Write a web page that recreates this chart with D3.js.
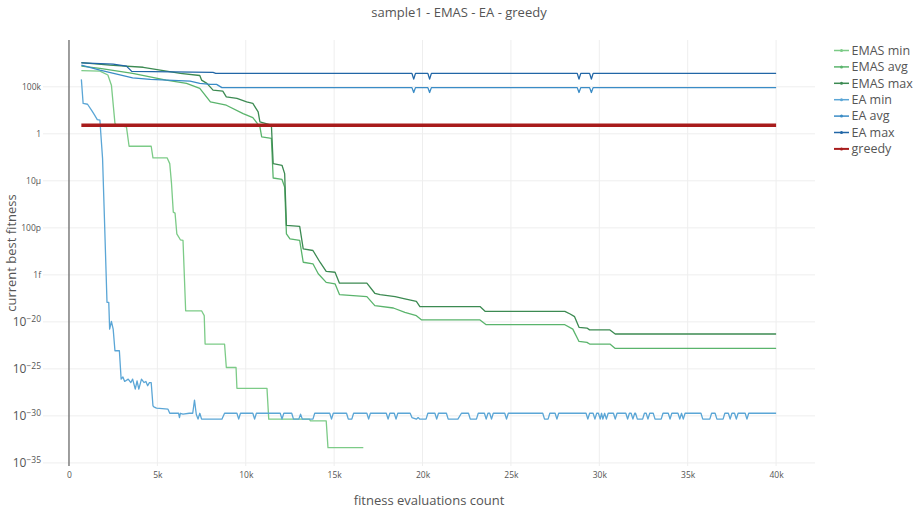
<!DOCTYPE html>
<html>
<head>
<meta charset="utf-8">
<script src="https://cdn.jsdelivr.net/npm/d3@7"></script>
<style>
  html, body { margin: 0; padding: 0; background: #fff; }
  svg { display: block; font-family: "Open Sans", "DejaVu Sans", sans-serif; }
</style>
</head>
<body>
<svg id="chart" width="917" height="512"></svg>
<script>
// ---------------- data (evaluations, best fitness) ----------------
const seriesNames = ["EMAS min", "EMAS avg", "EMAS max", "EA min", "EA avg", "EA max", "greedy"];
const seriesColors = ["#7ccb87", "#5ab46c", "#3c8a52", "#5ba6d6", "#3a8cc6", "#2166a6", "#a81c1c"];

const emasMin = [[700,5.4e6],[1750,4.7e6],[2200,1.8e6],[2400,1.5e5],[2600,13],[2700,8.3],[3250,5.5],[3400,0.048],[4650,0.048],[4750,2.8e-3],[5550,2.8e-3],[5700,6.8e-4],[5800,5.0e-6],[5900,4.7e-9],[6000,3.7e-9],[6100,2.3e-11],[6300,5.4e-12],[6450,4.6e-12],[6600,1.5e-19],[7500,1.5e-19],[7650,4.6e-20],[7700,4.4e-23],[8800,4.4e-23],[8900,1.4e-25],[9450,1.4e-25],[9500,8.5e-28],[11200,8.5e-28],[11300,4.5e-31],[13600,4.5e-31],[13650,3.0e-31],[14550,3.0e-31],[14650,4.2e-34],[16650,4.2e-34]];

const emasAvg = [[700,1.6e7],[1750,9.1e6],[3600,2.7e6],[5500,5.2e5],[6650,2.3e5],[7400,6.8e4],[8000,2.5e3],[8900,1.1e3],[9850,1.4e2],[10400,53],[10800,5.5],[10900,0.47],[11450,0.32],[11550,2.0e-5],[12050,1.4e-5],[12200,2.2e-6],[12300,2.3e-11],[12500,6.9e-12],[13050,4.6e-12],[13250,2.2e-14],[13800,1.5e-14],[14100,1.3e-15],[14550,1.6e-16],[15050,1.1e-16],[15300,8.0e-18],[16850,4.9e-18],[17300,5.4e-19],[18350,3.0e-19],[19000,1.0e-19],[19650,4.6e-20],[19950,1.6e-20],[23250,1.6e-20],[23600,5.0e-21],[28050,5.0e-21],[28500,1.7e-21],[28850,8.3e-23],[29300,6.5e-23],[29450,4.4e-23],[30600,4.4e-23],[30900,1.5e-23],[40000,1.5e-23]];

const emasMax = [[700,3.8e7],[2300,2.0e7],[4200,1.2e7],[6300,2.7e6],[7400,1.6e6],[7500,5.2e5],[7800,2.3e5],[8150,4.4e4],[8700,3.5e4],[8900,8.6e3],[9500,5.8e3],[10050,2.5e3],[10400,1.7e3],[10700,2.2e2],[10800,19],[11450,8.3],[11550,6.8e-4],[12050,4.5e-4],[12200,5.9e-5],[12300,1.8e-10],[13050,1.4e-10],[13250,5.9e-13],[13800,3.9e-13],[14200,2.2e-14],[14550,2.4e-15],[15050,1.9e-15],[15300,1.3e-16],[16850,1.3e-16],[17300,1.1e-17],[17600,8.0e-18],[18450,4.9e-18],[19000,2.8e-18],[19650,1.5e-18],[19850,4.2e-19],[23250,4.2e-19],[23550,1.3e-19],[28050,1.3e-19],[28350,6.9e-20],[28600,3.6e-20],[28850,2.6e-21],[29300,2.2e-21],[29450,1.4e-21],[30600,1.4e-21],[30900,5.1e-22],[40000,5.1e-22]];

const eaMin = [[700,6.2e5],[800,1.7e3],[1050,1.4e3],[1300,2.7e2],[1450,96],[1600,33],[1750,28],[1800,1.1],[1900,2.3e-3],[2000,2.1e-9],[2150,1.2e-18],[2250,1.2e-18],[2300,1.7e-21],[2400,1.1e-20],[2500,1.7e-21],[2600,8.5e-24],[2850,8.5e-24],[2950,8.1e-27],[3050,1.4e-26],[3150,4.6e-27],[3350,8.1e-27],[3500,3.5e-27],[3600,8.1e-27],[3750,7.1e-28],[3850,5.4e-27],[3950,7.1e-28],[4100,8.1e-27],[4250,3.5e-27],[4350,4.6e-27],[4450,1.6e-27],[4550,3.5e-27],[4650,3.5e-27],[4750,1.2e-29],[4800,9.1e-30],[4950,6.6e-30],[5600,5.2e-30],[5700,1.9e-30],[6200,1.9e-30],[6250,6.6e-31],[6300,1.9e-30],[6450,1.5e-30],[6800,1.9e-30],[7000,1.9e-30],[7100,4.7e-29],[7200,1.5e-30],[7300,4.5e-31],[7400,1.9e-30],[7500,4.5e-31],[8650,4.5e-31],[8800,1.9e-30],
[9500,1.9e-30],[9600,4.5e-31],[9700,1.9e-30],[10400,1.9e-30],[10500,4.5e-31],[10600,1.9e-30],[11950,1.9e-30],[12050,4.5e-31],[12150,1.9e-30],[12600,1.9e-30],[12700,4.5e-31],[13000,4.5e-31],[13100,1.5e-30],[13200,4.5e-31],[13800,4.5e-31],[13900,1.9e-30],[14750,1.9e-30],[14850,4.5e-31],[14950,1.9e-30],[15700,1.9e-30],[15800,4.5e-31],[16000,4.5e-31],[16100,1.9e-30],[16850,1.9e-30],[16950,4.5e-31],[17050,1.9e-30],[17950,1.9e-30],[18050,4.5e-31],[18150,1.9e-30],[18400,1.9e-30],[18500,4.5e-31],[18600,1.9e-30],[19300,1.9e-30],[19400,6.6e-31],[19650,4.5e-31],[19750,6.6e-31],[19850,4.5e-31],[20200,4.5e-31],[20300,1.9e-30],[20700,1.9e-30],[20800,4.5e-31],[20900,1.9e-30],[21350,1.9e-30],[21450,4.5e-31],[22000,4.5e-31],[22200,1.9e-30],[22600,1.9e-30],[22700,4.5e-31],[23050,4.5e-31],[23150,1.9e-30],[23500,1.9e-30],[23600,4.5e-31],[23700,1.9e-30],[23800,1.9e-30],[23900,4.5e-31],[24000,1.9e-30],[24650,1.9e-30],[24750,4.5e-31],[24850,1.9e-30],[26800,1.9e-30],[26900,4.5e-31],[27100,4.5e-31],[27200,1.9e-30],[27500,1.9e-30],[27600,4.5e-31],[27700,1.9e-30],[29250,1.9e-30],[29350,4.5e-31],[29450,1.9e-30],[29650,1.9e-30],[29750,4.5e-31],[29850,1.9e-30],[29950,1.9e-30],[30050,4.5e-31],[30125,1.9e-30],[30200,4.5e-31],[30300,1.9e-30],[30400,4.5e-31],[30500,1.9e-30],[30800,1.9e-30],[30900,4.5e-31],[31000,1.9e-30],[31500,1.9e-30],[31600,4.5e-31],[31700,1.9e-30],[31800,1.9e-30],[31900,4.5e-31],[32000,1.9e-30],[32050,1.9e-30],[32150,4.5e-31],[32450,4.5e-31],[32550,1.9e-30],[32650,1.9e-30],[32750,4.5e-31],[32850,1.9e-30],[33050,1.9e-30],[33150,4.5e-31],[33500,4.5e-31],[33600,1.9e-30],[33900,1.9e-30],[34000,4.5e-31],[34100,1.9e-30],[34450,1.9e-30],[34550,4.5e-31],[34650,1.9e-30],[34750,4.5e-31],[34850,1.9e-30],[35750,1.9e-30],[35850,4.5e-31],[36250,4.5e-31],[36350,1.9e-30],[36550,1.9e-30],[36650,4.5e-31],[37000,4.5e-31],[37100,1.9e-30],[37300,1.9e-30],[37400,4.5e-31],[37500,1.9e-30],[37650,1.9e-30],[37750,4.5e-31],[37850,1.9e-30],[38250,1.9e-30],[38350,4.5e-31],[38450,1.9e-30],[40000,1.9e-30]];

const eaAvg = [[700,2.0e7],[1750,6.0e6],[3600,9.1e5],[4600,6.2e5],[6850,4.1e5],[7400,2.3e5],[8000,1.8e5],[8350,1.8e5],[8650,8.2e4],[19400,8.2e4],[19500,2.5e4],[19600,8.2e4],[20300,8.2e4],[20400,2.5e4],[20500,8.2e4],[28750,8.2e4],[28850,2.5e4],[28950,8.2e4],[29450,8.2e4],[29550,2.5e4],[29650,8.2e4],[40000,8.2e4]];

const eaMax = [[700,3.6e7],[2500,2.6e7],[3250,1.6e7],[3550,4.4e6],[8150,3.4e6],[8300,2.7e6],[19400,2.7e6],[19500,6.6e5],[19600,2.7e6],[20300,2.7e6],[20400,6.6e5],[20500,2.7e6],[28750,2.7e6],[28850,6.6e5],[28950,2.7e6],[29450,2.7e6],[29550,6.6e5],[29650,2.7e6],[40000,2.7e6]];

const greedy = [[700,8.3],[40000,8.3]];

const xTickValues = [0,5000,10000,15000,20000,25000,30000,35000,40000];
const xTickLabels = ["0","5k","10k","15k","20k","25k","30k","35k","40k"];
const yTickValues = [1e5,1,1e-5,1e-10,1e-15,1e-20,1e-25,1e-30,1e-35];
const yTickLabels = ["100k","1","10µ","100p","1f","10^−20","10^−25","10^−30","10^−35"];

const titleText = "sample1 - EMAS - EA - greedy";
const xTitle = "fitness evaluations count";
const yTitle = "current best fitness";

// ---------------- layout ----------------
const W = 917, H = 512;
const plot = {left: 43, right: 815, top: 40, bottom: 466};

const svg = d3.select("#chart");

const x = d3.scaleLinear().domain([-1470, 42200]).range([plot.left, plot.right]);
const y = d3.scaleLog().domain([Math.pow(10,-35.33), Math.pow(10,9.98)]).range([plot.bottom, plot.top]);

// grid
const grid = svg.append("g");
grid.selectAll("line.vx").data(xTickValues).join("line")
  .attr("x1", d => x(d)).attr("x2", d => x(d))
  .attr("y1", plot.top).attr("y2", plot.bottom)
  .attr("stroke", "#eeeeee").attr("stroke-width", 1);
grid.selectAll("line.hy").data(yTickValues).join("line")
  .attr("x1", plot.left).attr("x2", plot.right)
  .attr("y1", d => y(d)).attr("y2", d => y(d))
  .attr("stroke", "#eeeeee").attr("stroke-width", 1);

// zero line
svg.append("line")
  .attr("x1", x(0)).attr("x2", x(0))
  .attr("y1", plot.top).attr("y2", plot.bottom)
  .attr("stroke", "#444").attr("stroke-width", 1);

// axes
const xAxis = d3.axisBottom(x).tickValues(xTickValues)
  .tickFormat((d,i) => xTickLabels[i]).tickSize(0).tickPadding(6);
const gx = svg.append("g").attr("transform", `translate(0,${plot.bottom})`).call(xAxis);
gx.select(".domain").remove();
gx.selectAll("text").attr("fill", "#555").style("font-size", "8.5px")
  .style("font-family", '"Open Sans", sans-serif');

const yAxis = d3.axisLeft(y).tickValues(yTickValues)
  .tickFormat((d,i) => yTickLabels[i]).tickSize(0).tickPadding(2);
const gy = svg.append("g").attr("transform", `translate(${plot.left},0)`).call(yAxis);
gy.select(".domain").remove();
gy.selectAll("text").attr("fill", "#555").style("font-size", "8.5px")
  .style("font-family", '"Open Sans", sans-serif')
  .each(function() {
    const t = d3.select(this);
    const s = t.text();
    if (s.indexOf("^") >= 0) {
      const [base, exp] = s.split("^");
      t.text(null).style("font-size", "12px");
      t.append("tspan").text(base);
      t.append("tspan").text(exp).attr("dy", "-0.45em").style("font-size", "8.5px");
    }
  });

// clip
svg.append("clipPath").attr("id", "clip").append("rect")
  .attr("x", plot.left).attr("y", plot.top)
  .attr("width", plot.right - plot.left).attr("height", plot.bottom - plot.top);

const line = d3.line().x(d => x(d[0])).y(d => y(d[1]));
const allSeries = [emasMin, emasAvg, emasMax, eaMin, eaAvg, eaMax, greedy];
const widths = [1.3, 1.3, 1.3, 1.3, 1.3, 1.3, 3.6];

const gLines = svg.append("g").attr("clip-path", "url(#clip)");
allSeries.forEach((s, i) => {
  gLines.append("path").datum(s)
    .attr("d", line)
    .attr("fill", "none")
    .attr("stroke", seriesColors[i])
    .attr("stroke-width", widths[i])
    .attr("stroke-linejoin", "round");
});

// title
svg.append("text").attr("x", 459).attr("y", 16.5).attr("text-anchor", "middle")
  .attr("fill", "#555").style("font-size", "13px").text(titleText);

// axis titles
svg.append("text").attr("x", (plot.left + plot.right) / 2).attr("y", 505)
  .attr("text-anchor", "middle").attr("fill", "#555").style("font-size", "13px").text(xTitle);
svg.append("text").attr("transform", `translate(15.5,${(plot.top + plot.bottom) / 2}) rotate(-90)`)
  .attr("text-anchor", "middle").attr("fill", "#555").style("font-size", "13px").text(yTitle);

// legend
const legend = svg.append("g");
seriesNames.forEach((name, i) => {
  const ly = 50.5 + i * 16.4;
  const g = legend.append("g").attr("transform", `translate(0,${ly})`);
  g.append("line").attr("x1", 834).attr("x2", 849).attr("y1", 0).attr("y2", 0)
    .attr("stroke", seriesColors[i]).attr("stroke-width", i === 6 ? 2 : 1.5);
  g.append("circle").attr("cx", 841.5).attr("cy", 0).attr("r", 1.5).attr("fill", seriesColors[i]);
  g.append("text").attr("x", 851.5).attr("y", 4.3).attr("fill", "#555")
    .style("font-size", "12.5px").text(name);
});
</script>
</body>
</html>
